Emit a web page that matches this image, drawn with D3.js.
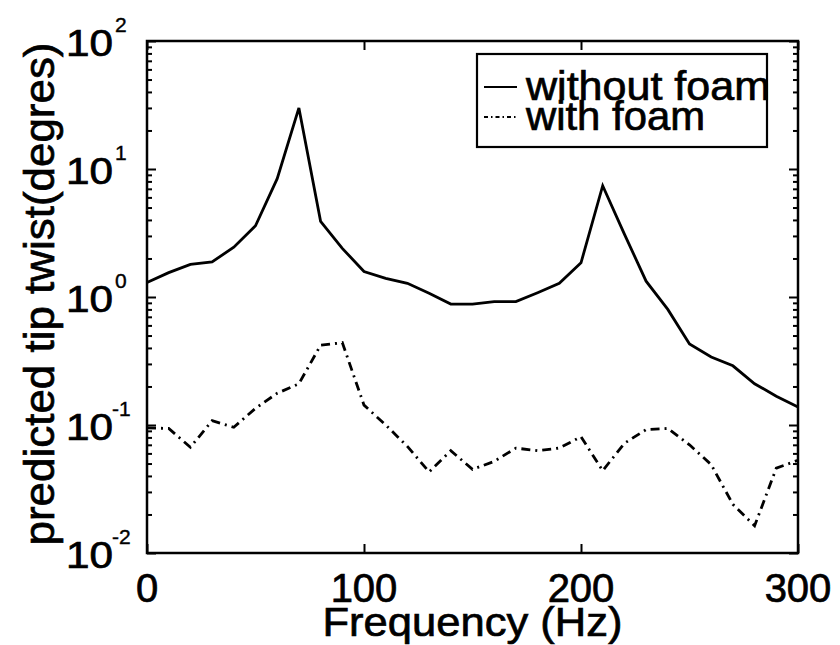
<!DOCTYPE html>
<html>
<head>
<meta charset="utf-8">
<script src="https://cdn.jsdelivr.net/npm/d3@7"></script>
<style>
  html, body { margin: 0; padding: 0; background: #fff; }
  svg { display: block; }
  text { font-family: "Liberation Sans", Arial, Helvetica, sans-serif; fill: #000; stroke: #000; stroke-width: 0.7px; }
</style>
</head>
<body>
<svg id="chart" width="840" height="645"></svg>
<script>
// ---- data ----
const frequency = [0,10,20,30,40,50,60,70,80,90,100,110,120,130,140,150,160,170,180,190,200,210,220,230,240,250,260,270,280,290,300];
const withoutFoam = [1.3,1.55,1.8,1.88,2.45,3.6,8.4,30,3.9,2.4,1.58,1.4,1.28,1.07,0.88,0.88,0.92,0.92,1.08,1.28,1.85,7.4,3.1,1.33,0.8,0.43,0.34,0.29,0.21,0.168,0.138];
const withFoam = [0.095,0.094,0.067,0.108,0.096,0.135,0.177,0.21,0.42,0.44,0.143,0.1,0.068,0.043,0.063,0.045,0.052,0.066,0.063,0.066,0.081,0.044,0.072,0.092,0.094,0.07,0.049,0.024,0.0163,0.046,0.053];
const xTicks = [0,100,200,300];
const yDecades = [-2,-1,0,1,2];
const seriesNames = ["without foam","with foam"];
const xTitle = "Frequency (Hz)";
const yTitle = "predicted tip twist(degres)";

// ---- layout ----
const svg = d3.select("#chart");
const L = 147, R = 798, T = 41, B = 553;
const x = d3.scaleLinear().domain([0,300]).range([L,R]);
const y = d3.scaleLog().domain([0.01,100]).range([B,T]);

const dashDot = "9,5,2,5";

// ---- lines ----
const line = d3.line().x((d,i)=>x(frequency[i])).y(d=>y(d));
svg.append("path").datum(withoutFoam).attr("d", line)
  .attr("fill","none").attr("stroke","#000").attr("stroke-width",2.8).attr("stroke-linejoin","miter");
svg.append("path").datum(withFoam).attr("d", line)
  .attr("fill","none").attr("stroke","#000").attr("stroke-width",2.8).attr("stroke-dasharray",dashDot);

// ---- axes (MATLAB style, ticks inside) ----
const ax = svg.append("g");
ax.append("rect").attr("x",L).attr("y",T).attr("width",R-L).attr("height",B-T)
  .attr("fill","none").attr("stroke","#000").attr("stroke-width",2.5);

// x ticks
const xAxisB = d3.axisBottom(x).tickValues(xTicks).tickSize(-9).tickFormat("");
const xAxisT = d3.axisTop(x).tickValues(xTicks).tickSize(-9).tickFormat("");
ax.append("g").attr("transform",`translate(0,${B})`).call(xAxisB);
ax.append("g").attr("transform",`translate(0,${T})`).call(xAxisT);

// y ticks: majors and minors
const majors = yDecades.map(e=>Math.pow(10,e));
const minors = [];
yDecades.slice(0,-1).forEach(e=>{ for(let k=2;k<=9;k++) minors.push(k*Math.pow(10,e)); });
ax.append("g").attr("transform",`translate(${L},0)`).call(d3.axisLeft(y).tickValues(majors).tickSize(-9).tickFormat(""));
ax.append("g").attr("transform",`translate(${R},0)`).call(d3.axisRight(y).tickValues(majors).tickSize(-9).tickFormat(""));
ax.append("g").attr("transform",`translate(${L},0)`).call(d3.axisLeft(y).tickValues(minors).tickSize(-5).tickFormat(""));
ax.append("g").attr("transform",`translate(${R},0)`).call(d3.axisRight(y).tickValues(minors).tickSize(-5).tickFormat(""));
ax.selectAll(".domain").remove();
ax.selectAll(".tick line").attr("stroke","#000").attr("stroke-width",2);

// x tick labels
svg.selectAll(".xlab").data(xTicks).enter().append("text")
  .attr("x",d=>x(d)).attr("y",602).attr("text-anchor","middle")
  .style("font-size","40px").text(d=>d);

// y tick labels 10^e
const yl = svg.selectAll(".ylab").data(yDecades).enter().append("g");
yl.append("text").attr("x",113).attr("y",d=>y(Math.pow(10,d))+15).attr("text-anchor","end")
  .attr("textLength",47).attr("lengthAdjust","spacingAndGlyphs")
  .style("font-size","36px").text("10");
yl.append("text").attr("x",d=>d<0?112:115).attr("y",d=>y(Math.pow(10,d))-9).attr("text-anchor","start")
  .style("font-size","21px").style("stroke-width","0.4px").text(d=>d<0?"-"+Math.abs(d):String(d));

// axis titles
svg.append("text").attr("x",(L+R)/2).attr("y",636).attr("text-anchor","middle")
  .attr("textLength",300).attr("lengthAdjust","spacingAndGlyphs")
  .style("font-size","41px").text(xTitle);
svg.append("text").attr("transform","translate(54,294) rotate(-90)").attr("text-anchor","middle")
  .attr("textLength",503).attr("lengthAdjust","spacingAndGlyphs")
  .style("font-size","43px").text(yTitle);

// ---- legend ----
const lg = svg.append("g");
lg.append("rect").attr("x",477).attr("y",54).attr("width",290).attr("height",93)
  .attr("fill","#fff").attr("stroke","#000").attr("stroke-width",2.2);
lg.append("line").attr("x1",484).attr("x2",517).attr("y1",87).attr("y2",87)
  .attr("stroke","#000").attr("stroke-width",2);
lg.append("line").attr("x1",484).attr("x2",517).attr("y1",117).attr("y2",117)
  .attr("stroke","#000").attr("stroke-width",2).attr("stroke-dasharray","4,3,1.5,3");
lg.append("text").attr("x",526).attr("y",100).attr("textLength",244).attr("lengthAdjust","spacingAndGlyphs")
  .style("font-size","40px").text(seriesNames[0]);
lg.append("text").attr("x",526).attr("y",130).attr("textLength",179).attr("lengthAdjust","spacingAndGlyphs")
  .style("font-size","40px").text(seriesNames[1]);
</script>
</body>
</html>
